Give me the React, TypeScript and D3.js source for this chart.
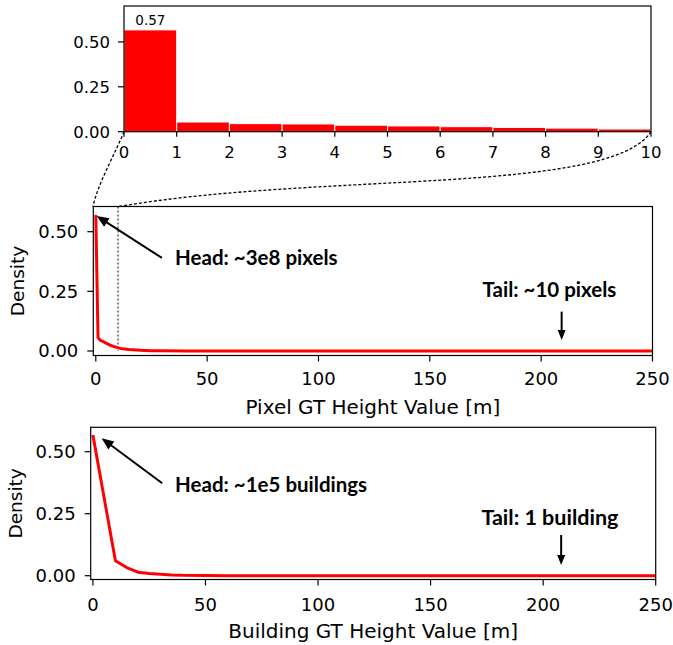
import React from "react";
import * as d3 from "d3";

// ---------- data ----------
const topBinEdges = [0, 1, 2, 3, 4, 5, 6, 7, 8, 9, 10];
const topValues = [0.567, 0.054, 0.045, 0.043, 0.036, 0.032, 0.028, 0.024, 0.02, 0.015];
const topXTicks = [0, 1, 2, 3, 4, 5, 6, 7, 8, 9, 10];
const densityTicks = [0, 0.25, 0.5];
const heightTicks = [0, 50, 100, 150, 200, 250];

const pixelHeights = [0, 1, 2, 3, 4, 5, 6, 7, 8, 9, 10, 12, 15, 20, 25, 30, 40, 60, 100, 150, 200, 250];
const pixelDensity = [0.57, 0.056, 0.045, 0.041, 0.036, 0.031, 0.027, 0.023, 0.019, 0.016, 0.013, 0.009, 0.006, 0.003, 0.0015, 0.0008, 0.0003, 0.0001, 0, 0, 0, 0];

const buildingHeights = [0, 10, 15, 20, 25, 30, 35, 40, 50, 60, 80, 100, 150, 200, 250];
const buildingDensity = [0.567, 0.06, 0.033, 0.014, 0.009, 0.006, 0.003, 0.0015, 0.0007, 0.0003, 0.0001, 0, 0, 0, 0];

const RED = "#ff0000";
const TICK_FONT = "'DejaVu Sans', sans-serif";
const ANN_FONT = "Lato, 'DejaVu Sans', sans-serif";

function Arrow({ x1, y1, x2, y2, head = 12, width = 10, sw = 2 }) {
  const dx = x2 - x1, dy = y2 - y1;
  const len = Math.hypot(dx, dy);
  const ux = dx / len, uy = dy / len;
  const bx = x2 - ux * head, by = y2 - uy * head;
  const px = -uy * width / 2, py = ux * width / 2;
  return (
    <g>
      <line x1={x1} y1={y1} x2={bx + ux * 2} y2={by + uy * 2} stroke="#000" strokeWidth={sw} />
      <polygon points={`${x2},${y2} ${bx + px},${by + py} ${bx - px},${by - py}`} fill="#000" />
    </g>
  );
}

function LinePanel({ xs, ys, left, right, top, bottom, yZero, yHalf, x0px, x250px, xLabel, xLabelY, tickBaseline, densityX, ann, dotted }) {
  const x = d3.scaleLinear().domain([0, 250]).range([x0px, x250px]);
  const y = d3.scaleLinear().domain([0, 0.5]).range([yZero, yHalf]);
  const line = d3.line<number>().x((d, i) => x(xs[i])).y((d) => y(d));
  return (
    <g>
      {dotted && (
        <line x1={x(10)} x2={x(10)} y1={top} y2={y(0)} stroke="#000" strokeWidth={1} strokeDasharray="2,2" />
      )}
      <path d={line(ys) || ""} fill="none" stroke={RED} strokeWidth={3} strokeLinejoin="round" />
      <rect x={left} y={top} width={right - left} height={bottom - top} fill="none" stroke="#000" strokeWidth={1.2} />
      {densityTicks.map((t) => (
        <g key={t}>
          <line x1={left - 6} x2={left} y1={y(t)} y2={y(t)} stroke="#000" strokeWidth={1.2} />
          <text x={left - 15} y={y(t)} dy="0.36em" textAnchor="end" fontSize={18} fontFamily={TICK_FONT}>
            {t.toFixed(2)}
          </text>
        </g>
      ))}
      {heightTicks.map((t) => (
        <g key={t}>
          <line x1={x(t)} x2={x(t)} y1={bottom} y2={bottom + 6} stroke="#000" strokeWidth={1.2} />
          <text x={x(t)} y={tickBaseline} textAnchor="middle" fontSize={18} fontFamily={TICK_FONT}>
            {t}
          </text>
        </g>
      ))}
      <text x={(left + right) / 2} y={xLabelY} textAnchor="middle" fontSize={20} fontFamily={TICK_FONT}>
        {xLabel}
      </text>
      <text
        transform={`translate(${densityX},${(top + bottom) / 2}) rotate(-90)`}
        textAnchor="middle"
        dy="0.36em"
        fontSize={18.5}
        fontFamily={TICK_FONT}
      >
        Density
      </text>
      <Arrow x1={x(ann.headTail[0])} y1={y(ann.headTail[1])} x2={x(ann.headTip[0])} y2={y(ann.headTip[1])} />
      <text x={x(ann.headText[0])} y={y(ann.headText[1])} fontSize={20.5} fontWeight="bold" fontFamily={ANN_FONT}>
        {ann.head}
      </text>
      <text x={x(ann.tailText[0])} y={y(ann.tailText[1])} textAnchor="middle" fontSize={ann.tailSize} fontWeight="bold" fontFamily={ANN_FONT}>
        {ann.tail}
      </text>
      <Arrow x1={x(ann.tailArrowX)} y1={y(ann.tailArrowY[0])} x2={x(ann.tailArrowX)} y2={y(ann.tailArrowY[1])} head={10} width={8} />
    </g>
  );
}

export default function App() {
  // top histogram
  const tL = 124, tR = 651, tT = 6, tB = 131.7;
  const tx = d3.scaleLinear().domain([0, 10]).range([tL, tR]);
  const ty = d3.scaleLinear().domain([0, 0.7]).range([tB, tT]);

  return (
    <svg width={673} height={645} style={{ position: "absolute", left: 0, top: 0, background: "#fff" }}>
      <rect x={0} y={0} width={673} height={645} fill="#fff" />
      {/* top histogram */}
      {topValues.map((v, i) => (
        <rect
          key={i}
          x={tx(topBinEdges[i])}
          y={ty(v)}
          width={tx(topBinEdges[i + 1]) - tx(topBinEdges[i])}
          height={ty(0) - ty(v)}
          fill={RED}
          stroke="#fff"
          strokeWidth={1}
        />
      ))}
      <text x={(tx(0) + tx(1)) / 2} y={ty(topValues[0]) - 5} textAnchor="middle" fontSize={13.5} fontFamily={TICK_FONT}>
        {topValues[0].toFixed(2)}
      </text>
      <rect x={tL} y={tT} width={tR - tL} height={tB - tT} fill="none" stroke="#000" strokeWidth={1.2} />
      {densityTicks.map((t) => (
        <g key={t}>
          <line x1={tL - 6} x2={tL} y1={ty(t)} y2={ty(t)} stroke="#000" strokeWidth={1.2} />
          <text x={tL - 14} y={ty(t)} dy="0.36em" textAnchor="end" fontSize={16.5} fontFamily={TICK_FONT}>
            {t.toFixed(2)}
          </text>
        </g>
      ))}
      {topXTicks.map((t) => (
        <g key={t}>
          <line x1={tx(t)} x2={tx(t)} y1={tB} y2={tB + 5} stroke="#000" strokeWidth={1.2} />
          <text x={tx(t)} y={158} textAnchor="middle" fontSize={16.5} fontFamily={TICK_FONT}>
            {t}
          </text>
        </g>
      ))}

      {/* zoom connectors */}
      <path d={`M${tL},${tB} C116,152 97,185 93,207`} fill="none" stroke="#000" strokeWidth={1.3} strokeDasharray="3,2" />
      <path d={`M${tR},${tB} C610,195 319,172 119,206.5`} fill="none" stroke="#000" strokeWidth={1.3} strokeDasharray="3,2" />

      <LinePanel
        xs={pixelHeights}
        ys={pixelDensity}
        left={93.3}
        right={652.5}
        top={206.5}
        bottom={355.5}
        yZero={351}
        yHalf={231.7}
        x0px={95.8}
        x250px={652.5}
        xLabel="Pixel GT Height Value [m]"
        xLabelY={414}
        tickBaseline={385}
        densityX={17.5}
        dotted
        ann={{
          head: "Head: ~3e8 pixels",
          headTip: [0.4, 0.566],
          headTail: [29.7, 0.39],
          headText: [35.6, 0.36],
          tail: "Tail: ~10 pixels",
          tailSize: 20.5,
          tailText: [203.7, 0.228],
          tailArrowX: 209.2,
          tailArrowY: [0.165, 0.046],
        }}
      />
      <LinePanel
        xs={buildingHeights}
        ys={buildingDensity}
        left={90.7}
        right={655.7}
        top={427.3}
        bottom={579.5}
        yZero={575.7}
        yHalf={451.7}
        x0px={92.9}
        x250px={655.7}
        xLabel="Building GT Height Value [m]"
        xLabelY={638}
        tickBaseline={610.5}
        densityX={15.5}
        ann={{
          head: "Head: ~1e5 buildings",
          headTip: [3.9, 0.554],
          headTail: [30.8, 0.373],
          headText: [36.5, 0.339],
          tail: "Tail: 1 building",
          tailSize: 21.5,
          tailText: [203, 0.204],
          tailArrowX: 208,
          tailArrowY: [0.164, 0.043],
        }}
      />
    </svg>
  );
}
